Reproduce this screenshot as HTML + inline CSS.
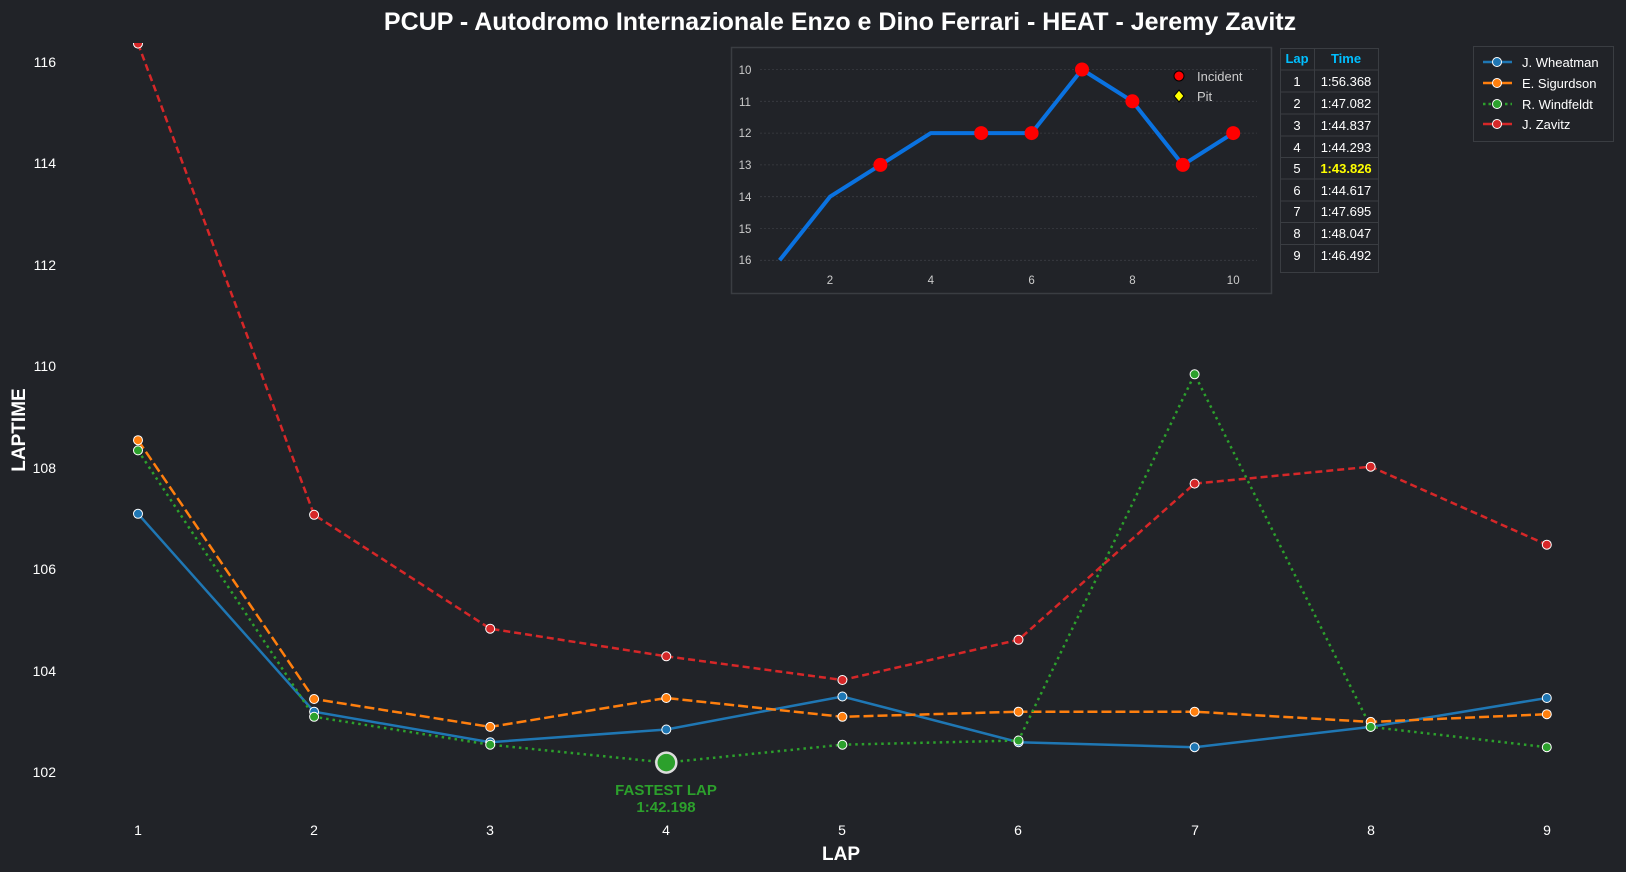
<!DOCTYPE html>
<html><head><meta charset="utf-8"><style>
html,body{margin:0;padding:0;background:#212328;}
svg{display:block;font-family:"Liberation Sans",sans-serif;}
</style></head><body>
<svg width="1626" height="872" viewBox="0 0 1626 872" xmlns="http://www.w3.org/2000/svg">
<rect width="1626" height="872" fill="#212328"/>
<defs><clipPath id="c"><rect x="0" y="43" width="1626" height="829"/></clipPath></defs>
<text x="840" y="30" text-anchor="middle" font-size="25" font-weight="bold" fill="#fff">PCUP - Autodromo Internazionale Enzo e Dino Ferrari - HEAT - Jeremy Zavitz</text>
<g font-size="14" fill="#fff" text-anchor="end">
<text x="56" y="777">102</text><text x="56" y="676">104</text><text x="56" y="574">106</text><text x="56" y="473">108</text><text x="56" y="371">110</text><text x="56" y="270">112</text><text x="56" y="168">114</text><text x="56" y="67">116</text>
</g>
<g font-size="14" fill="#fff" text-anchor="middle">
<text x="138" y="835">1</text><text x="314" y="835">2</text><text x="490" y="835">3</text><text x="666" y="835">4</text><text x="842" y="835">5</text><text x="1018" y="835">6</text><text x="1195" y="835">7</text><text x="1371" y="835">8</text><text x="1547" y="835">9</text>
</g>
<text x="841" y="860" text-anchor="middle" font-size="19" font-weight="bold" fill="#fff">LAP</text>
<text transform="translate(25,430) rotate(-90)" text-anchor="middle" font-size="19" font-weight="bold" fill="#fff">LAPTIME</text>
<g clip-path="url(#c)" stroke-width="2.5" fill="none">
<polyline stroke="#1f77b4" points="138,513.8 314.1,711.7 490.2,742.2 666.3,729.5 842.4,696.5 1018.5,742.2 1194.6,747.2 1370.7,726.9 1546.8,698"/>
<polyline stroke="#ff7f0e" stroke-dasharray="10,4" points="138,440.2 314.1,699 490.2,726.9 666.3,698 842.4,716.8 1018.5,711.7 1194.6,711.7 1370.7,721.9 1546.8,714.2"/>
<polyline stroke="#2ca02c" stroke-dasharray="2.5,4" points="138,450.4 314.1,716.8 490.2,744.7 666.3,762.6 842.4,744.7 1018.5,740.5 1194.6,374.3 1370.7,726.9 1546.8,747.2"/>
<polyline stroke="#d62728" stroke-dasharray="7,4" points="138,43.6 314.1,514.8 490.2,628.7 666.3,656.3 842.4,680 1018.5,639.8 1194.6,483.6 1370.7,466.7 1546.8,544.7"/>
<g stroke="#fff" stroke-width="1">
<g fill="#1f77b4"><circle cx="138" cy="513.8" r="4.5"/><circle cx="314.1" cy="711.7" r="4.5"/><circle cx="490.2" cy="742.2" r="4.5"/><circle cx="666.3" cy="729.5" r="4.5"/><circle cx="842.4" cy="696.5" r="4.5"/><circle cx="1018.5" cy="742.2" r="4.5"/><circle cx="1194.6" cy="747.2" r="4.5"/><circle cx="1370.7" cy="726.9" r="4.5"/><circle cx="1546.8" cy="698" r="4.5"/></g>
<g fill="#ff7f0e"><circle cx="138" cy="440.2" r="4.5"/><circle cx="314.1" cy="699" r="4.5"/><circle cx="490.2" cy="726.9" r="4.5"/><circle cx="666.3" cy="698" r="4.5"/><circle cx="842.4" cy="716.8" r="4.5"/><circle cx="1018.5" cy="711.7" r="4.5"/><circle cx="1194.6" cy="711.7" r="4.5"/><circle cx="1370.7" cy="721.9" r="4.5"/><circle cx="1546.8" cy="714.2" r="4.5"/></g>
<g fill="#2ca02c"><circle cx="138" cy="450.4" r="4.5"/><circle cx="314.1" cy="716.8" r="4.5"/><circle cx="490.2" cy="744.7" r="4.5"/><circle cx="842.4" cy="744.7" r="4.5"/><circle cx="1018.5" cy="740.5" r="4.5"/><circle cx="1194.6" cy="374.3" r="4.5"/><circle cx="1370.7" cy="726.9" r="4.5"/><circle cx="1546.8" cy="747.2" r="4.5"/></g>
<g fill="#d62728"><circle cx="138" cy="43.6" r="4.5"/><circle cx="314.1" cy="514.8" r="4.5"/><circle cx="490.2" cy="628.7" r="4.5"/><circle cx="666.3" cy="656.3" r="4.5"/><circle cx="842.4" cy="680" r="4.5"/><circle cx="1018.5" cy="639.8" r="4.5"/><circle cx="1194.6" cy="483.6" r="4.5"/><circle cx="1370.7" cy="466.7" r="4.5"/><circle cx="1546.8" cy="544.7" r="4.5"/></g>
</g>
<circle cx="666.3" cy="762.6" r="10" fill="#2ca02c" stroke="#ddd" stroke-width="2.5"/>
</g>
<text x="666" y="795" text-anchor="middle" font-size="15" font-weight="bold" fill="#2ca02c">FASTEST LAP</text>
<text x="666" y="812" text-anchor="middle" font-size="15" font-weight="bold" fill="#2ca02c">1:42.198</text>
<rect x="731.5" y="47.5" width="540" height="246" fill="#212328" stroke="#3a3d42" stroke-width="1.5"/>
<g stroke="#3a3d42" stroke-width="0.8" stroke-dasharray="2,2">
<line x1="760" y1="69.5" x2="1257" y2="69.5"/><line x1="760" y1="101.3" x2="1257" y2="101.3"/><line x1="760" y1="133.1" x2="1257" y2="133.1"/><line x1="760" y1="164.9" x2="1257" y2="164.9"/><line x1="760" y1="196.7" x2="1257" y2="196.7"/><line x1="760" y1="228.5" x2="1257" y2="228.5"/><line x1="760" y1="260.3" x2="1257" y2="260.3"/>
</g>
<g font-size="11.5" fill="#ccc" text-anchor="middle">
<text x="745" y="74">10</text><text x="745" y="106">11</text><text x="745" y="137">12</text><text x="745" y="169">13</text><text x="745" y="201">14</text><text x="745" y="233">15</text><text x="745" y="264">16</text>
<text x="830" y="284">2</text><text x="930.8" y="284">4</text><text x="1031.6" y="284">6</text><text x="1132.4" y="284">8</text><text x="1233.2" y="284">10</text>
</g>
<polyline fill="none" stroke="#0a72e0" stroke-width="4" stroke-linejoin="round" points="779.6,260.3 830,196.7 880.4,164.9 930.8,133.1 981.2,133.1 1031.6,133.1 1082,69.5 1132.4,101.3 1182.8,164.9 1233.2,133.1"/>
<g fill="#ff0000"><circle cx="880.4" cy="164.9" r="7"/><circle cx="981.2" cy="133.1" r="7"/><circle cx="1031.6" cy="133.1" r="7"/><circle cx="1082" cy="69.5" r="7"/><circle cx="1132.4" cy="101.3" r="7"/><circle cx="1182.8" cy="164.9" r="7"/><circle cx="1233.2" cy="133.1" r="7"/></g>
<circle cx="1179" cy="76" r="5" fill="#ff0000" stroke="#000" stroke-width="1"/>
<polygon points="1179,90 1184,96 1179,102 1174,96" fill="#ffff00" stroke="#000" stroke-width="1"/>
<text x="1197" y="81" font-size="13" fill="#ccc">Incident</text>
<text x="1197" y="101" font-size="13" fill="#ccc">Pit</text>
<g stroke="#3a3d42" stroke-width="1" fill="none">
<rect x="1280.5" y="48.5" width="98" height="224"/>
<line x1="1314.5" y1="48.5" x2="1314.5" y2="272.5"/>
<line x1="1280.5" y1="70" x2="1378.5" y2="70"/><line x1="1280.5" y1="92" x2="1378.5" y2="92"/><line x1="1280.5" y1="114" x2="1378.5" y2="114"/><line x1="1280.5" y1="136" x2="1378.5" y2="136"/><line x1="1280.5" y1="157.5" x2="1378.5" y2="157.5"/><line x1="1280.5" y1="179" x2="1378.5" y2="179"/><line x1="1280.5" y1="201" x2="1378.5" y2="201"/><line x1="1280.5" y1="222.5" x2="1378.5" y2="222.5"/><line x1="1280.5" y1="244.5" x2="1378.5" y2="244.5"/>
</g>
<g font-size="13" text-anchor="middle" fill="#fff">
<text x="1297" y="63" fill="#00bfff" font-weight="bold">Lap</text><text x="1346" y="63" fill="#00bfff" font-weight="bold">Time</text>
<text x="1297" y="86">1</text><text x="1346" y="86">1:56.368</text>
<text x="1297" y="108">2</text><text x="1346" y="108">1:47.082</text>
<text x="1297" y="130">3</text><text x="1346" y="130">1:44.837</text>
<text x="1297" y="152">4</text><text x="1346" y="152">1:44.293</text>
<text x="1297" y="173">5</text><text x="1346" y="173" fill="#ffff00" font-weight="bold">1:43.826</text>
<text x="1297" y="195">6</text><text x="1346" y="195">1:44.617</text>
<text x="1297" y="216">7</text><text x="1346" y="216">1:47.695</text>
<text x="1297" y="238">8</text><text x="1346" y="238">1:48.047</text>
<text x="1297" y="260">9</text><text x="1346" y="260">1:46.492</text>
</g>
<rect x="1473.5" y="46.5" width="140" height="95" fill="#212328" stroke="#3a3d42" stroke-width="1"/>
<g stroke-width="2.5">
<line x1="1483" y1="62" x2="1512" y2="62" stroke="#1f77b4"/>
<line x1="1483" y1="83" x2="1512" y2="83" stroke="#ff7f0e"/>
<line x1="1483" y1="104" x2="1512" y2="104" stroke="#2ca02c" stroke-dasharray="2.5,3"/>
<line x1="1483" y1="124" x2="1512" y2="124" stroke="#d62728"/>
</g>
<g stroke="#fff" stroke-width="1">
<circle cx="1497" cy="62" r="4.5" fill="#1f77b4"/><circle cx="1497" cy="83" r="4.5" fill="#ff7f0e"/><circle cx="1497" cy="104" r="4.5" fill="#2ca02c"/><circle cx="1497" cy="124" r="4.5" fill="#d62728"/>
</g>
<g font-size="13" fill="#fff">
<text x="1522" y="67">J. Wheatman</text><text x="1522" y="88">E. Sigurdson</text><text x="1522" y="109">R. Windfeldt</text><text x="1522" y="129">J. Zavitz</text>
</g>
</svg>
</body></html>
